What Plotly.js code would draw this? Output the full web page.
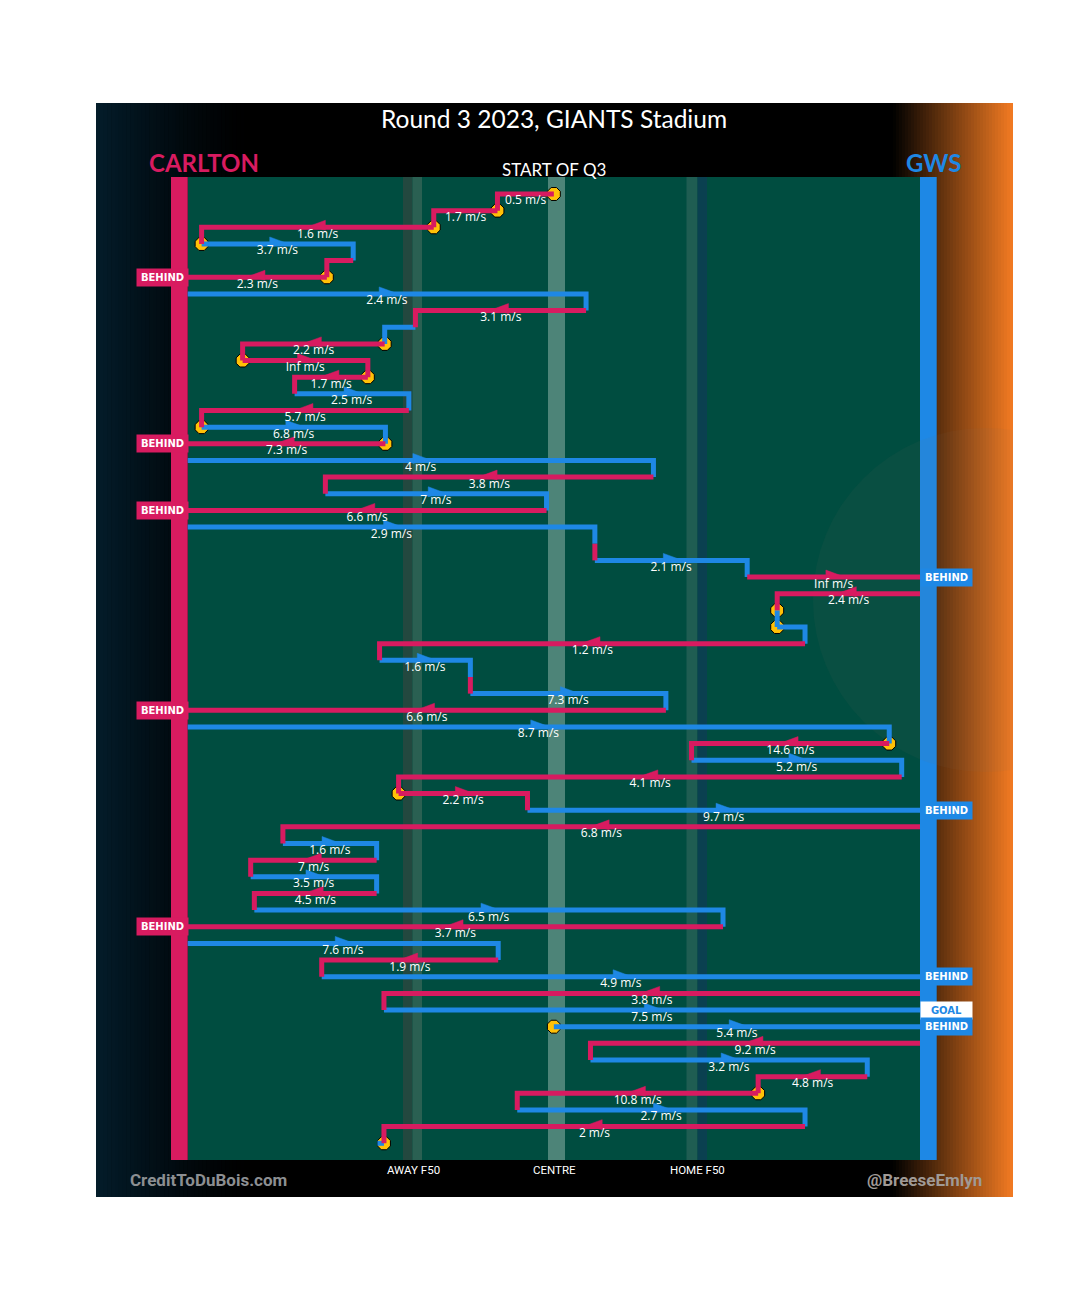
<!DOCTYPE html>
<html><head><meta charset="utf-8">
<script src="https://cdn.plot.ly/plotly-3.0.1.min.js"></script>
<style>body{margin:0;background:#fff}</style>
</head><body><div id="chart" style="width:1080px;height:1315px"></div>
<script>
// ---- DATA (field position: 0 = Carlton goal line, 100 = GWS goal line; one row per disposal) ----
const teams = ['C','C','C','G','C','C','G','C','G','C','C','C','G','C','G','C','G','C','G','C',
               'G','C','G','C','C','G','G','C','G','C','G','C','G','C','G','C','C','G','C','G',
               'C','G','C','G','C','G','C','G','C','G','G','C','G','C','C','G','C','G'];
const xStart = [50.0,42.3,33.6,1.9,22.6,19.0,0,54.4,31.1,26.9,7.5,24.6,14.6,30.2,1.9,27.0,0,63.6,18.8,49.0,
                0,55.6,55.6,76.4,100,80.5,80.5,84.3,26.2,38.6,38.6,65.3,0,95.8,68.8,97.5,28.8,46.4,100,13.0,
                25.8,8.6,25.8,9.1,73.1,0,42.4,18.3,100,26.8,50.0,100,55.0,92.8,77.9,45.0,84.3,26.8];
const xEnd   = [42.3,33.6,1.9,22.6,19.0,0,54.4,31.1,26.9,7.5,24.6,14.6,30.2,1.9,27.0,0,63.6,18.8,49.0,0,
                55.6,55.6,76.4,100,80.5,80.5,84.3,26.2,38.6,38.6,65.3,0,95.8,68.8,97.5,28.8,46.4,100,13.0,25.8,
                8.6,25.8,9.1,73.1,0,42.4,18.3,100,26.8,100,100,55.0,92.8,77.9,45.0,84.3,26.8,25.9];
const speeds = ['0.5','1.7','1.6','3.7','','2.3','2.4','3.1','','2.2','Inf','1.7','2.5','5.7','6.8','7.3','4','3.8','7','6.6',
                '2.9','','2.1','Inf','2.4','','','1.2','1.6','','7.3','6.6','8.7','14.6','5.2','4.1','2.2','9.7','6.8','1.6',
                '7','3.5','4.5','6.5','3.7','7.6','1.9','4.9','3.8','7.5','5.4','9.2','3.2','4.8','10.8','2.7','2',''];
const outcomeRows = [5,15,19,23,31,37,44,47,49,50];
const outcomes    = ['BEHIND','BEHIND','BEHIND','BEHIND','BEHIND','BEHIND','BEHIND','BEHIND','GOAL','BEHIND'];
const stoppageRows = [0,1,2,3,5,9,10,11,14,15,25,26,33,36,50,54,57];
const zoneLabels = ['AWAY F50','CENTRE','HOME F50'];
const zonePos = [30.9, 50.1, 69.6];

// ---- STYLE / LAYOUT HELPERS ----
const COL = {C:'#d81b60', G:'#1e88e5'};
const PX0 = 187.7, PXU = 7.323;          // pixel -> field units (layout decoration only)
const ux = px => (px - PX0) / PXU;
const ROW0 = 194, ROWH = 16.654;
const uy = py => (py - ROW0) / ROWH;

const shapes = [];
function rectPx(x0,x1,y0,y1,color){
  shapes.push({type:'rect',xref:'x',yref:'y',x0:ux(x0),x1:ux(x1),y0:uy(y0),y1:uy(y1),
               fillcolor:color,line:{width:0},layer:'below'});
}
// gradients at the sides
for (let k=0;k<40;k++){
  const t=(k+0.5)/40, f=Math.pow(1-t,1.3);
  rectPx(96+k*3.8, 96+(k+1)*3.8+0.5, 103, 1197, `rgb(${Math.round(3*f)},${Math.round(28*f)},${Math.round(42*f)})`);
}
for (let k=0;k<40;k++){
  const t=(k+0.5)/40;
  rectPx(893+k*3, 893+(k+1)*3+0.5, 103, 1197, `rgb(${Math.round(243*t)},${Math.round(123*t)},${Math.round(34*t)})`);
}
// field
rectPx(PX0, 920, 177, 1160, '#004d40');
rectPx(403, 412.5, 177, 1160, '#23483f');
rectPx(412.5, 422, 177, 1160, '#2a6052');
rectPx(548, 565, 177, 1160, '#4d8478');
rectPx(686.5, 697.5, 177, 1160, '#1f5d52');
rectPx(697.5, 707, 177, 1160, '#0a4050');
rectPx(171, PX0, 177, 1160, COL.C);
rectPx(920, 936.7, 177, 1160, COL.G);
shapes.push({type:'circle',xref:'x',yref:'y',x0:ux(813),x1:ux(1157),y0:uy(428),y1:uy(772),
             fillcolor:'rgba(125,110,100,0.07)',line:{width:0},layer:'below'});

// ---- TRACES built from data ----
const n = teams.length;
const lx={C:[],G:[]}, ly={C:[],G:[]};
const ax={C:[],G:[]}, ay={C:[],G:[]};
const tx=[], ty=[], tt=[];
const AW = 2.1;
for (let i=0;i<n;i++){
  const t=teams[i], xs=xStart[i], xe=xEnd[i];
  lx[t].push(xs, xe); ly[t].push(i, i);
  if (i+1<n && xStart[i+1]===xe && xe!==0 && xe!==100){ lx[t].push(xe); ly[t].push(i+1); }
  lx[t].push(null); ly[t].push(null);
  const m=(xs+xe)/2, d=Math.sign(xe-xs);
  if (Math.abs(xe-xs)>=10){
    ax[t].push(m+d*AW/2, m-d*AW/2, m-d*AW/2, m+d*AW/2, null);
    ay[t].push(i-0.08, i-0.42, i+0.18, i-0.08, null);
  }
  if (speeds[i]!==''){ tx.push(m); ty.push(i+0.45); tt.push(speeds[i]+' m/s'); }
}
const traces = [];
traces.push({type:'scatter',mode:'markers',x:stoppageRows.map(r=>xStart[r]),y:stoppageRows,
  marker:{symbol:'octagon',size:14,color:'#ffc107',line:{color:'#000',width:1}},hoverinfo:'skip'});
['G','C'].forEach(t=>{
  traces.push({type:'scatter',mode:'lines',x:lx[t],y:ly[t],line:{color:COL[t],width:5},hoverinfo:'skip',connectgaps:false});
});
['G','C'].forEach(t=>{
  traces.push({type:'scatter',mode:'lines',x:ax[t],y:ay[t],fill:'toself',fillcolor:COL[t],line:{color:COL[t],width:0.5},hoverinfo:'skip'});
});
traces.push({type:'scatter',mode:'text',x:tx,y:ty,text:tt,textposition:'middle center',
  textfont:{family:'Open Sans',size:12,color:'#ffffff'},hoverinfo:'skip',cliponaxis:false});

// ---- ANNOTATIONS ----
const ann = [];
function txt(text,px,py,size,color,family,weight){
  ann.push({text,x:ux(px),y:uy(py),xref:'x',yref:'y',showarrow:false,xanchor:'center',yanchor:'middle',
            font:{size,color,family,weight:weight||400}});
}
txt('Round 3 2023, GIANTS Stadium',553.5,118,24.5,'#ffffff','Lato',400);
txt('CARLTON',203.5,162,24,COL.C,'Lato',700);
txt('GWS',934,162,24,COL.G,'Lato',700);
txt('START OF Q3',553.5,169,17,'#ffffff','Lato',400);
zoneLabels.forEach((z,k)=>{
  ann.push({text:z,x:zonePos[k],y:uy(1169.5),xref:'x',yref:'y',showarrow:false,xanchor:'center',yanchor:'middle',
            font:{size:11.5,color:'#ffffff',family:'Roboto'}});
});
txt('CreditToDuBois.com',208,1180,17,'#8c8f92','Roboto',700);
txt('@BreeseEmlyn',924.5,1180,17,'#a09a96','Roboto',700);
outcomeRows.forEach((r,k)=>{
  const left = xEnd[r]===0;
  const isGoal = outcomes[k]==='GOAL';
  ann.push({text:outcomes[k],x:left?ux(162.5):ux(946),y:r,xref:'x',yref:'y',showarrow:false,
    xanchor:'center',yanchor:'middle',width:49,height:15,borderpad:1,
    bgcolor:isGoal?'#ffffff':(left?COL.C:COL.G),
    font:{family:'DejaVu Sans',size:10,weight:700,color:isGoal?COL.G:'#ffffff'}});
});

const layout = {
  width:1080,height:1315,autosize:false,
  margin:{l:96,r:67,t:103,b:118,pad:0},
  paper_bgcolor:'#ffffff',plot_bgcolor:'#000000',
  showlegend:false,
  xaxis:{range:[ux(96),ux(1013)],visible:false,fixedrange:true},
  yaxis:{range:[uy(1197),uy(103)],visible:false,fixedrange:true},
  shapes, annotations:ann
};
Plotly.newPlot('chart',traces,layout,{displayModeBar:false,staticPlot:true});
</script></body></html>
